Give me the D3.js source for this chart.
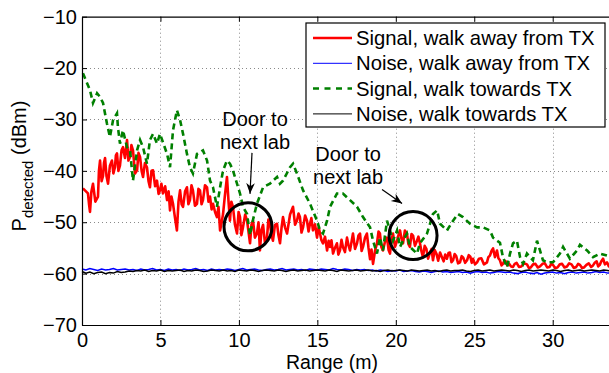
<!DOCTYPE html>
<html>
<head>
<meta charset="utf-8">
<script src="https://cdn.jsdelivr.net/npm/d3@7"></script>
<style>
  body { margin: 0; background: #fff; }
  svg { display: block; font-family: "Liberation Sans", Arial, Helvetica, sans-serif; }
</style>
</head>
<body>
<div id="chart"></div>
<script>
// Tick labels
const xTicks = [0, 5, 10, 15, 20, 25, 30];
const yTicks = [-70, -60, -50, -40, -30, -20, -10];

// Signal, walk away from TX: [range (m), P (dBm)]
const signalAway = [
  [0.06,-43.4],[0.22,-43.9],[0.38,-44.4],[0.45,-46.5],[0.51,-48],[0.60,-44],[0.70,-42.5],[0.85,-46],
  [1.02,-45],[1.08,-40],[1.15,-38],[1.25,-42],[1.34,-41],[1.40,-38.5],[1.47,-37.5],[1.56,-41],
  [1.66,-42.5],[1.78,-39],[1.91,-38],[2.00,-40.5],[2.10,-39.3],[2.16,-37],[2.23,-36.6],[2.32,-40],
  [2.42,-39],[2.52,-36],[2.61,-35.4],[2.74,-37.5],[2.87,-34],[2.96,-38],[3.06,-37.3],[3.15,-35],
  [3.25,-36],[3.38,-40.5],[3.51,-39.9],[3.60,-36.5],[3.70,-37.3],[3.80,-40],[3.89,-41.2],[4.01,-38.5],
  [4.14,-39.3],[4.24,-42],[4.33,-43.2],[4.43,-40],[4.53,-39.9],[4.66,-43],[4.78,-41.9],[4.88,-44.5],
  [4.97,-43.8],[5.06,-42.5],[5.16,-44.4],[5.30,-43],[5.42,-45.7],[5.52,-44],[5.61,-47.7],[5.70,-45],
  [5.80,-46.4],[5.92,-49],[6.05,-51.6],[6.15,-46],[6.25,-43.8],[6.35,-46.5],[6.44,-47],[6.57,-44],
  [6.69,-43.2],[6.78,-46.5],[6.88,-45.7],[6.98,-42.8],[7.07,-43.8],[7.20,-46.8],[7.33,-46.4],[7.42,-43.5],
  [7.52,-43.8],[7.62,-46.5],[7.71,-45.7],[7.84,-42.8],[7.97,-43.2],[8.06,-46],[8.16,-45],[8.26,-47.5],
  [8.35,-46.4],[8.48,-48],[8.60,-49],[8.70,-47],[8.80,-51.6],[8.90,-50],[8.99,-48.4],[9.10,-45],
  [9.24,-41.2],[9.34,-46],[9.43,-49.7],[9.52,-46],[9.62,-47],[9.75,-50.5],[9.88,-52.2],[9.98,-48],
  [10.07,-49],[10.16,-52.5],[10.26,-51],[10.40,-48.5],[10.52,-49.7],[10.62,-52],[10.71,-54.1],[10.80,-50.5],
  [10.90,-49.7],[11.02,-53],[11.15,-52.2],[11.25,-50],[11.34,-55.5],[11.44,-51.5],[11.54,-50.5],[11.66,-54],
  [11.79,-53],[11.88,-49.5],[11.98,-50.3],[12.08,-52.5],[12.17,-53.6],[12.30,-50.5],[12.43,-50.3],[12.52,-52.5],
  [12.62,-54.1],[12.72,-51],[12.81,-49],[12.94,-51],[13.07,-52.2],[13.26,-48.5],[13.45,-47],[13.58,-50.5],
  [13.70,-49.7],[13.80,-48.3],[13.89,-49],[13.99,-52],[14.09,-51],[14.22,-48.7],[14.34,-49.7],[14.44,-51.8],
  [14.53,-50.3],[14.62,-49.2],[14.72,-51.6],[14.85,-50.4],[14.98,-53],[15.08,-51],[15.17,-52.2],[15.26,-53.5],
  [15.36,-54.1],[15.49,-52.8],[15.62,-55.5],[15.72,-53.6],[15.81,-54.8],[15.90,-53.5],[16.00,-56.1],[16.12,-55],
  [16.25,-54.1],[16.34,-56.3],[16.44,-55.5],[16.54,-53.4],[16.63,-54.8],[16.76,-55.8],[16.89,-53],[16.98,-54.4],
  [17.08,-55.5],[17.18,-53.8],[17.27,-52.2],[17.40,-55.2],[17.53,-54.1],[17.62,-52.6],[17.72,-52.2],[17.82,-55.6],
  [17.91,-54.8],[18.04,-53],[18.16,-52.2],[18.26,-55],[18.36,-57.2],[18.45,-55.3],[18.55,-58.1],[18.68,-55.5],
  [18.80,-54.1],[18.90,-51.8],[18.99,-52.2],[19.08,-54.8],[19.18,-55.5],[19.31,-53.8],[19.44,-53],[19.54,-55.4],
  [19.63,-56.1],[19.72,-53.5],[19.82,-52.2],[19.95,-54.8],[20.08,-53.6],[20.18,-52.4],[20.27,-51.6],[20.36,-53.2],
  [20.46,-54.1],[20.58,-51.6],[20.71,-52.2],[20.80,-54.2],[20.90,-54.8],[21.00,-52.3],[21.10,-52.6],[21.22,-54.6],
  [21.35,-53.6],[21.44,-52.8],[21.54,-54.1],[21.63,-55.6],[21.73,-56.8],[21.84,-54.6],[21.95,-55.2],[22.06,-57.1],
  [22.18,-55.9],[22.28,-55.2],[22.37,-57.4],[22.48,-55.4],[22.60,-56.2],[22.70,-57.5],[22.82,-55.9],[22.94,-56.8],
  [23.05,-57.6],[23.15,-56.3],[23.26,-57.1],[23.36,-56.0],[23.45,-55.9],[23.55,-57.8],[23.65,-57.4],[23.75,-56.2],
  [23.85,-56.6],[23.97,-58.0],[24.09,-57.8],[24.20,-56.6],[24.30,-56.9],[24.42,-57.9],[24.54,-57.4],[24.65,-56.4],
  [24.75,-56.7],[24.84,-57.9],[24.92,-57.1],[25.05,-58.2],[25.18,-57.8],[25.30,-57.1],[25.45,-57.0],[25.62,-58.2],
  [25.81,-57.8],[25.90,-56.8],[26.00,-56.5],[26.10,-55.6],[26.20,-55.1],[26.32,-56.8],[26.45,-55.5],[26.54,-57.0],
  [26.64,-57.4],[26.74,-58.4],[26.83,-58.1],[26.92,-57.5],[27.00,-57.6],[27.10,-58.4],[27.20,-58.0],[27.35,-58.6],
  [27.47,-58.7],[27.58,-58.1],[27.70,-57.9],[27.85,-58.7],[28.00,-58.6],[28.18,-58.0],[28.36,-58.2],[28.48,-58.9],
  [28.60,-58.8],[28.75,-58.2],[28.90,-58.1],[29.05,-58.8],[29.19,-58.6],[29.35,-58.1],[29.50,-58.0],[29.65,-58.8],
  [29.80,-58.7],[29.91,-58.1],[30.02,-58.3],[30.15,-58.9],[30.30,-58.8],[30.45,-58.2],[30.60,-58.1],[30.75,-58.8],
  [30.91,-58.6],[31.05,-58.0],[31.20,-58.2],[31.35,-58.9],[31.50,-58.7],[31.62,-58.1],[31.74,-58.3],[31.87,-58.9],
  [32.00,-58.8],[32.15,-58.3],[32.30,-58.0],[32.45,-58.7],[32.57,-58.4],[32.68,-57.9],[32.80,-57.6],[32.90,-58.6],
  [33.00,-58.3],[33.10,-57.6],[33.21,-57.1],[33.33,-58.2],[33.46,-57.8],[33.58,-58.6],[33.70,-58.2]
];

// Signal, walk towards TX: [range (m), P (dBm)]
const signalTowards = [
  [0.06,-21],[0.51,-24.3],[0.70,-26.8],[0.96,-24.9],[1.15,-25.6],[1.34,-26.8],[1.59,-30.8],[1.78,-33.4],
  [1.98,-30.1],[2.23,-28.8],[2.29,-31.5],[2.42,-34.7],[2.61,-32.1],[2.87,-35.4],[3.06,-36],[3.25,-41.9],
  [3.51,-36],[3.70,-34],[3.89,-35.4],[4.14,-38.6],[4.33,-34],[4.53,-32.8],[4.78,-34.7],[4.97,-32.8],
  [5.42,-36.7],[5.61,-39.3],[5.80,-32.1],[6.05,-28.2],[6.25,-30.1],[6.44,-32.8],[6.69,-36.7],[6.88,-39.3],
  [7.07,-40.5],[7.33,-36.7],[7.71,-36],[7.97,-38],[8.16,-41.9],[8.35,-43.2],[8.60,-47],[8.80,-43.2],
  [8.99,-39.9],[9.24,-38],[9.43,-38.6],[9.62,-39.9],[10.07,-44.4],[10.26,-47],[10.52,-48.4],[10.71,-52.5],
  [10.90,-49.5],[11.15,-46.4],[11.54,-43.2],[11.98,-42.5],[12.43,-41.2],[12.62,-42.5],[12.81,-41.9],[13.26,-39.3],
  [13.45,-38.6],[13.70,-40.5],[14.09,-43.8],[14.53,-46.4],[14.98,-49.7],[15.17,-51.6],[15.36,-52.2],[15.62,-49.7],
  [15.81,-47],[16.25,-44.4],[16.63,-44.4],[17.08,-45.7],[17.53,-47],[17.91,-49],[18.36,-51],[18.55,-53.6],
  [18.80,-56.1],[18.99,-53],[19.18,-55.5],[19.44,-49.7],[19.63,-51.6],[19.82,-53.6],[20.08,-51.6],[20.27,-54.8],
  [20.46,-53.6],[20.71,-52.2],[20.90,-54.8],[21.35,-56.1],[21.54,-54.1],[21.99,-52.2],[22.37,-48.4],[22.63,-47.7],
  [22.82,-50.3],[23.26,-51.6],[23.65,-49.7],[23.96,-48.4],[24.28,-49],[24.73,-50.3],[25.18,-51],[25.56,-51],
  [26.00,-51.6],[26.20,-53],[26.45,-53.6],[26.64,-54],[26.83,-56.8],[27.09,-58.8],[27.28,-56.1],[27.47,-54.1],
  [27.72,-53.6],[27.92,-56.8],[28.11,-58.1],[28.36,-56.1],[28.74,-57.4],[29.00,-53.6],[29.19,-55.5],[29.38,-57.4],
  [29.64,-57.8],[30.02,-57.8],[30.46,-56.1],[30.66,-54.8],[30.91,-56.1],[31.10,-57.1],[31.55,-55.5],[31.74,-54.4],
  [32.19,-55.5],[32.57,-56.8],[33.01,-56.1],[33.46,-56.5],[33.80,-56.0]
];

// Noise traces, sampled every 0.25 m from 0 m
const noiseStep = 0.25;
const noiseAway = [
  -59.1,-59.3,-59.0,-59.2,-59.4,-59.1,-59.3,-59.2,-59.0,-59.3,-59.2,-59.1,
  -59.3,-59.2,-59.4,-59.1,-59.3,-59.2,-59.0,-59.3,-59.2,-59.4,-59.1,-59.3,
  -59.2,-59.4,-59.1,-59.3,-59.2,-59.0,-59.3,-59.2,-59.4,-59.1,-59.3,-59.2,
  -59.3,-59.1,-59.2,-59.4,-59.2,-59.0,-59.3,-59.2,-59.1,-59.3,-59.4,-59.2,
  -59.1,-59.3,-59.2,-59.0,-59.3,-59.2,-59.1,-59.3,-59.2,-59.4,-59.1,-59.2,
  -59.3,-59.1,-59.2,-59.3,-59.0,-59.2,-59.3,-59.1,-59.2,-59.4,-59.2,-59.3,
  -59.2,-59.4,-59.3,-59.5,-59.3,-59.4,-59.6,-59.4,-59.5,-59.3,-59.6,-59.5,
  -59.4,-59.6,-59.7,-59.5,-59.6,-59.8,-59.6,-59.5,-59.7,-59.6,-59.8,-59.7,
  -59.6,-59.8,-59.7,-59.9,-59.7,-59.6,-59.8,-59.7,-59.9,-59.8,-59.6,-59.7,
  -59.8,-59.7,-59.9,-60.0,-59.8,-59.7,-59.9,-60.0,-59.8,-60.1,-59.9,-59.8,
  -59.7,-59.9,-59.8,-60.0,-59.8,-59.7,-59.9,-59.8,-59.7,-59.9,-59.8,-59.6,
  -59.8,-59.7,-59.9,-59.8
];
const noiseTowards = [
  -59.6,-59.9,-59.7,-60.0,-59.8,-59.7,-60.0,-59.8,-59.9,-59.6,-59.8,-59.7,
  -59.5,-59.6,-59.4,-59.5,-59.3,-59.6,-59.4,-59.5,-59.3,-59.6,-59.4,-59.5,
  -59.4,-59.3,-59.6,-59.4,-59.5,-59.3,-59.4,-59.6,-59.5,-59.3,-59.4,-59.5,
  -59.3,-59.5,-59.4,-59.6,-59.3,-59.4,-59.5,-59.3,-59.4,-59.6,-59.4,-59.3,
  -59.4,-59.5,-59.3,-59.4,-59.6,-59.4,-59.3,-59.5,-59.4,-59.3,-59.5,-59.4,
  -59.3,-59.4,-59.5,-59.3,-59.4,-59.6,-59.3,-59.4,-59.5,-59.4,-59.3,-59.5,
  -59.4,-59.3,-59.5,-59.4,-59.6,-59.4,-59.3,-59.5,-59.4,-59.3,-59.4,-59.5,
  -59.3,-59.4,-59.5,-59.4,-59.3,-59.5,-59.4,-59.6,-59.4,-59.3,-59.5,-59.4,
  -59.4,-59.3,-59.5,-59.6,-59.4,-59.3,-59.5,-59.4,-59.3,-59.5,-59.4,-59.3,
  -59.4,-59.5,-59.3,-59.4,-59.6,-59.4,-59.3,-59.5,-59.4,-59.3,-59.4,-59.5,
  -59.3,-59.4,-59.6,-59.4,-59.3,-59.5,-59.4,-59.3,-59.5,-59.4,-59.3,-59.4,
  -59.5,-59.3,-59.4,-59.5
];

// Annotations: [range (m), P (dBm)] of the circled doors
const doors = [[10.58, -50.9], [21.1, -52.6]];

const legendLabels = [
  "Signal, walk away from TX",
  "Noise, walk away from TX",
  "Signal, walk towards TX",
  "Noise, walk towards TX"
];

const width = 609, height = 373;
const margin = { top: 16.7, left: 82, bottom: 48 };
const plotBottom = height - margin.bottom;

const svg = d3.select("#chart").append("svg")
  .attr("width", width)
  .attr("height", height);

const x = d3.scaleLinear().domain([0, 34]).range([margin.left, margin.left + 34 * 15.69]);
const y = d3.scaleLinear().domain([-70, -10]).range([plotBottom, margin.top]);
const xRight = x.range()[1];

// Grid
const grid = svg.append("g")
  .attr("stroke", "#8a8a8a")
  .attr("stroke-width", 1)
  .attr("stroke-dasharray", "1,3");
grid.selectAll(".gx").data(xTicks.slice(1)).enter().append("line")
  .attr("x1", d => Math.round(x(d)) + 0.5).attr("x2", d => Math.round(x(d)) + 0.5)
  .attr("y1", margin.top).attr("y2", plotBottom);
grid.selectAll(".gy").data(yTicks.slice(1, -1)).enter().append("line")
  .attr("y1", d => Math.round(y(d)) + 0.5).attr("y2", d => Math.round(y(d)) + 0.5)
  .attr("x1", margin.left).attr("x2", xRight);

// Lines
const line = d3.line().x(d => x(d[0])).y(d => y(d[1]));
const noisePts = vals => vals.map((v, i) => [i * noiseStep, v]);

const plot = svg.append("g");
plot.append("path").datum(signalAway).attr("d", line)
  .attr("fill", "none").attr("stroke", "#ff0000").attr("stroke-width", 2.6).attr("stroke-linejoin", "round");
plot.append("path").datum(noisePts(noiseAway)).attr("d", line)
  .attr("fill", "none").attr("stroke", "#0000ff").attr("stroke-width", 1.5);
plot.append("path").datum(signalTowards).attr("d", line)
  .attr("fill", "none").attr("stroke", "#008000").attr("stroke-width", 2.6).attr("stroke-dasharray", "6,4");
plot.append("path").datum(noisePts(noiseTowards)).attr("d", line)
  .attr("fill", "none").attr("stroke", "#000").attr("stroke-width", 1.5);

// Axes
const fontSize = 20;
const xAxis = svg.append("g")
  .attr("transform", `translate(0,${plotBottom})`)
  .call(d3.axisBottom(x).tickValues(xTicks).tickSize(-5).tickSizeOuter(0).tickPadding(8));
const xAxisTop = svg.append("g")
  .attr("transform", `translate(0,${margin.top})`)
  .call(d3.axisTop(x).tickValues(xTicks).tickSize(-5).tickSizeOuter(0).tickFormat(""));
const yAxis = svg.append("g")
  .attr("transform", `translate(${margin.left},0)`)
  .call(d3.axisLeft(y).tickValues(yTicks).tickSize(-5).tickSizeOuter(0).tickPadding(5)
    .tickFormat(d => String(d).replace("-", "\u2212")));

[xAxis, xAxisTop, yAxis].forEach(a => {
  a.select(".domain").attr("stroke", "#000").attr("stroke-width", 1.2);
  a.selectAll(".tick line").attr("stroke", "#000");
  a.selectAll("text").attr("font-size", fontSize).attr("fill", "#000")
    .attr("font-family", "'Liberation Sans', Arial, sans-serif");
});

// Axis titles
svg.append("text")
  .attr("x", 332).attr("y", 369)
  .attr("text-anchor", "middle").attr("font-size", 19.5)
  .text("Range (m)");

const yTitle = svg.append("text")
  .attr("transform", "translate(26,166) rotate(-90)")
  .attr("text-anchor", "middle").attr("font-size", 20);
yTitle.append("tspan").text("P");
yTitle.append("tspan").attr("font-size", 15).attr("dy", 7).text("detected");
yTitle.append("tspan").attr("dy", -7).text(" (dBm)");

// Door annotations
const ann = svg.append("g").attr("font-size", fontSize).attr("text-anchor", "middle");
svg.append("defs").append("marker")
  .attr("id", "arrow").attr("viewBox", "0 0 10 10").attr("refX", 10).attr("refY", 5)
  .attr("markerWidth", 9).attr("markerHeight", 9).attr("orient", "auto")
  .append("path").attr("d", "M0,1 L10,5 L0,9 L3,5 Z").attr("fill", "#000");

ann.selectAll("circle").data(doors).enter().append("circle")
  .attr("cx", d => x(d[0])).attr("cy", d => y(d[1])).attr("r", 24)
  .attr("fill", "none").attr("stroke", "#000").attr("stroke-width", 3);

// label positions relative to each circle
const labelOffsets = [{ dx: 7, dy: -101, ax1: 4, ay1: -74, ax2: 2, ay2: -33 },
                      { dx: -65, dy: -75, ax1: -31, ay1: -46, ax2: -11, ay2: -32 }];
doors.forEach((d, i) => {
  const cx = x(d[0]), cy = y(d[1]), o = labelOffsets[i];
  ann.append("text").attr("x", cx + o.dx).attr("y", cy + o.dy).text("Door to");
  ann.append("text").attr("x", cx + o.dx).attr("y", cy + o.dy + 23).text("next lab");
  ann.append("line")
    .attr("x1", cx + o.ax1).attr("y1", cy + o.ay1)
    .attr("x2", cx + o.ax2).attr("y2", cy + o.ay2)
    .attr("stroke", "#000").attr("stroke-width", 1.2).attr("marker-end", "url(#arrow)");
});

// Legend
const legend = svg.append("g").attr("transform", "translate(306,23)");
legend.append("rect").attr("width", 299).attr("height", 104)
  .attr("fill", "#fff").attr("stroke", "#000").attr("stroke-width", 1.2);
const legendStyles = [
  { color: "#ff0000", w: 2.5, dash: null },
  { color: "#0000ff", w: 1, dash: null },
  { color: "#008000", w: 2.5, dash: "6,5.5" },
  { color: "#000", w: 1, dash: null }
];
legendLabels.forEach((label, i) => {
  const row = legend.append("g").attr("transform", `translate(0,${15 + i * 25.3})`);
  row.append("line").attr("x1", 7).attr("x2", 46)
    .attr("stroke", legendStyles[i].color).attr("stroke-width", legendStyles[i].w)
    .attr("stroke-dasharray", legendStyles[i].dash);
  row.append("text").attr("x", 50).attr("y", 7).attr("font-size", 20.3).text(label);
});
</script>
</body>
</html>
